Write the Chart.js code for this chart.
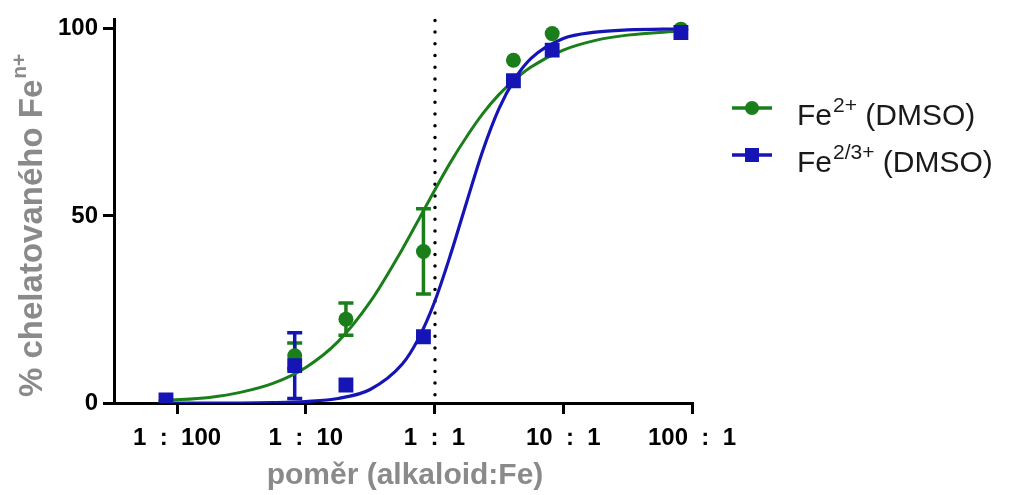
<!DOCTYPE html>
<html><head><meta charset="utf-8">
<script src="https://cdn.jsdelivr.net/npm/chart.js@4.4.0/dist/chart.umd.min.js"></script>
<style>html,body{margin:0;padding:0;background:#fff;} #wrap{width:1011px;height:495px;position:relative;}</style>
</head><body><div id="wrap"><canvas id="c" width="1011" height="495"></canvas></div>
<script>
// ---- data ----
const ratioX   = [0.0082, 0.082, 0.205, 0.82, 4.1, 8.2, 82];          // alkaloid:Fe ratio
const fe2Mean  = [0.4, 12.6, 22.4, 40.5, 91.6, 98.7, 99.9];
const fe2SD    = [0, 3.4, 4.3, 11.4, 0, 0, 0];
const fe23Mean = [0.8, 10.0, 4.8, 17.7, 86.1, 94.3, 99.0];
const fe23SD   = [0, 8.8, 0, 0, 0, 0, 0];
// fitted curves
const fitX     = [0.0082, 0.0178, 0.0316, 0.0562, 0.1, 0.178, 0.316, 0.562, 0.75, 1, 1.33, 1.78, 2.37, 3.16, 4.22, 5.62, 10, 17.8, 31.6, 82];
const fe2Fit   = [0.7, 1.5, 2.9, 5.3, 9.5, 16.4, 27.0, 41.1, 48.9, 56.8, 64.3, 71.2, 77.3, 82.4, 86.5, 89.8, 94.3, 96.9, 98.3, 99.4];
const fe23Fit  = [0, 0, 0, 0.1, 0.4, 1.2, 3.6, 10.4, 17.2, 27.0, 39.6, 53.8, 67.4, 78.6, 86.7, 92.1, 97.4, 99.1, 99.7, 100];
const xTickValues = [0.01, 0.1, 1, 10, 100];
const xTickLabels = ['1  :  100', '1  :  10', '1  :  1', '10  :  1', '100  :  1'];
const yTickValues = [0, 50, 100];
const markerLine = 1; // 1:1 ratio

const GREEN = '#1a7f1a', BLUE = '#1515b6', GRAY = '#8a8a8a';
const FONT = '"Liberation Sans", Arial, sans-serif';

const pts = (xs, ys) => xs.map((x, i) => ({x, y: ys[i]}));

const errorBars = {
  id: 'errorBars',
  beforeDatasetsDraw(chart) {
    const {ctx, scales:{x, y}} = chart;
    const sets = [[fe2Mean, fe2SD, GREEN], [fe23Mean, fe23SD, BLUE]];
    ctx.save();
    sets.forEach(([m, sd, col]) => {
      ctx.strokeStyle = col; ctx.lineWidth = 3.5;
      ratioX.forEach((rx, i) => {
        if (!sd[i]) return;
        const px = x.getPixelForValue(rx);
        const top = y.getPixelForValue(m[i] + sd[i]);
        const bot = y.getPixelForValue(m[i] - sd[i]);
        ctx.beginPath();
        ctx.moveTo(px, top); ctx.lineTo(px, bot);
        ctx.moveTo(px - 7.5, top); ctx.lineTo(px + 7.5, top);
        ctx.moveTo(px - 7.5, bot); ctx.lineTo(px + 7.5, bot);
        ctx.stroke();
      });
    });
    ctx.restore();
  }
};

const dotted = {
  id: 'dotted',
  beforeDatasetsDraw(chart) {
    const {ctx, chartArea, scales:{x}} = chart;
    const px = Math.round(x.getPixelForValue(markerLine));
    ctx.save();
    ctx.strokeStyle = '#000'; ctx.lineWidth = 3.5; ctx.lineCap = 'round';
    ctx.setLineDash([0, 11.7]);
    ctx.beginPath(); ctx.moveTo(px, chartArea.top + 1); ctx.lineTo(px, chartArea.bottom); ctx.stroke();
    ctx.restore();
  }
};

function supText(ctx, x, y, main, sup, tail, size, supSize, rise) {
  ctx.font = size + 'px ' + FONT;
  ctx.fillText(main, x, y);
  let w = ctx.measureText(main).width;
  ctx.font = supSize + 'px ' + FONT;
  ctx.fillText(sup, x + w + 1, y - rise);
  w += ctx.measureText(sup).width + 1;
  ctx.font = size + 'px ' + FONT;
  ctx.fillText(tail, x + w, y);
}

const extras = {
  id: 'extras',
  afterDraw(chart) {
    const {ctx} = chart;
    ctx.save();
    // legend
    const rows = [[GREEN, 'circle', '2+', 108], [BLUE, 'rect', '2/3+', 155]];
    rows.forEach(([col, shape, sup, yy]) => {
      ctx.strokeStyle = col; ctx.fillStyle = col; ctx.lineWidth = 3.5;
      ctx.beginPath(); ctx.moveTo(732, yy); ctx.lineTo(772, yy); ctx.stroke();
      ctx.beginPath();
      if (shape === 'circle') ctx.arc(752, yy, 7, 0, Math.PI * 2);
      else ctx.rect(745, yy - 7, 14, 14);
      ctx.fill();
      ctx.fillStyle = '#1a1a1a';
      ctx.textBaseline = 'alphabetic'; ctx.textAlign = 'left';
      supText(ctx, 797, yy + 17, 'Fe', sup, ' (DMSO)', 30, 21, 13);
    });
    // x title
    ctx.fillStyle = GRAY; ctx.textAlign = 'center'; ctx.textBaseline = 'alphabetic';
    ctx.font = 'bold 30px ' + FONT;
    ctx.fillText('poměr (alkaloid:Fe)', 405, 484);
    // y title
    ctx.translate(42, 397); ctx.rotate(-Math.PI / 2);
    ctx.textAlign = 'left';
    ctx.font = 'bold 33px ' + FONT;
    const main = '% chelatovaného Fe';
    ctx.fillText(main, 0, 0);
    const w = ctx.measureText(main).width;
    ctx.font = 'bold 21px ' + FONT;
    ctx.fillText('n+', w + 1, -16);
    ctx.restore();
  }
};

new Chart(document.getElementById('c'), {
  type: 'scatter',
  data: {
    datasets: [
      { label: 'Fe2/3+ (DMSO)', data: pts(ratioX, fe23Mean), pointStyle: 'rect', pointRadius: 10.5,
        backgroundColor: BLUE, borderColor: BLUE, borderWidth: 0, order: 0 },
      { label: 'Fe2+ (DMSO)', data: pts(ratioX, fe2Mean), pointStyle: 'circle', pointRadius: 7.5,
        backgroundColor: GREEN, borderColor: GREEN, borderWidth: 0, order: 1 },
      { label: 'fit Fe2/3+', data: pts(fitX, fe23Fit), showLine: true, pointRadius: 0, borderColor: BLUE,
        borderWidth: 3.2, cubicInterpolationMode: 'monotone', order: 2 },
      { label: 'fit Fe2+', data: pts(fitX, fe2Fit), showLine: true, pointRadius: 0, borderColor: GREEN,
        borderWidth: 3, cubicInterpolationMode: 'monotone', order: 3 }
    ]
  },
  options: {
    responsive: false, animation: false, devicePixelRatio: 1,
    layout: { padding: { top: 19, right: 319, left: 0, bottom: 0 } },
    plugins: { legend: { display: false }, tooltip: { enabled: false } },
    scales: {
      x: {
        type: 'logarithmic', min: Math.pow(10, -2.49), max: 100,
        afterBuildTicks(s) { s.ticks = xTickValues.map(v => ({ value: v })); },
        afterFit(s) { s.height = 92; },
        ticks: {
          autoSkip: false, maxRotation: 0, padding: 10, color: '#000',
          font: { family: FONT, size: 24, weight: 'bold' },
          callback(v) { const i = xTickValues.indexOf(v); return i >= 0 ? xTickLabels[i] : ''; }
        },
        grid: { display: true, drawOnChartArea: false, drawTicks: true, tickLength: 11, lineWidth: 3, color: '#000' },
        border: { display: true, width: 3, color: '#000' }
      },
      y: {
        type: 'linear', min: 0, max: 102.5,
        afterBuildTicks(s) { s.ticks = yTickValues.map(v => ({ value: v })); },
        afterFit(s) { s.width = 114; },
        ticks: {
          padding: 5, color: '#000',
          font: { family: FONT, size: 24, weight: 'bold' },
          callback(v) { return String(v); }
        },
        grid: { display: true, drawOnChartArea: false, drawTicks: true, tickLength: 11, lineWidth: 3, color: '#000' },
        border: { display: true, width: 3, color: '#000' }
      }
    }
  },
  plugins: [dotted, errorBars, extras]
});
</script>
</body></html>
